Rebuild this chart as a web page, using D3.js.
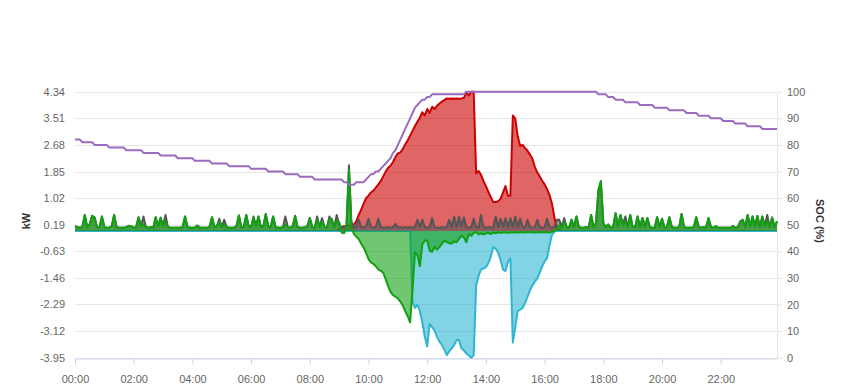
<!DOCTYPE html>
<html>
<head>
<meta charset="utf-8">
<script src="https://cdn.jsdelivr.net/npm/d3@7"></script>
<style>
  html, body { margin: 0; padding: 0; background: #fff; }
  svg { display: block; font-family: "Liberation Sans", Arial, Helvetica, sans-serif; }
  .tick text { fill: #666; font-size: 11px; }
  .axis-title { fill: #333; font-size: 11px; font-weight: bold; }
</style>
</head>
<body>
<svg id="chart" width="849" height="390"></svg>
<script>
/* ============================================================
   DATA (5 minute samples, one row per hour)
============================================================ */
const stepMinutes = 5;
const timeTicks = ["00:00","02:00","04:00","06:00","08:00","10:00","12:00","14:00","16:00","18:00","20:00","22:00"];
const kwTicks = [-3.95, -3.12, -2.29, -1.46, -0.63, 0.19, 1.02, 1.85, 2.68, 3.51, 4.34];
const socTicks = [0, 10, 20, 30, 40, 50, 60, 70, 80, 90, 100];

// PV production (kW)
const pv = [
  0,0,0,0,0,0,0,0,0,0,0,0,
  0,0,0,0,0,0,0,0,0,0,0,0,
  0,0,0,0,0,0,0,0,0,0,0,0,
  0,0,0,0,0,0,0,0,0,0,0,0,
  0,0,0,0,0,0,0,0,0,0,0,0,
  0,0,0,0,0,0,0,0,0,0,0,0,
  0,0,0,0,0,0,0,0,0,0,0,0,
  0,0,0,0,0,0,0,0,0,0,0,0,
  0,0,0,0,0,0,0,0,0,0,0,0,
  0.05,0.12,0.15,0.15,0.17,0.18,0.2,0.3,0.5,0.66,0.85,1.02,
  1.1,1.2,1.26,1.35,1.45,1.55,1.7,1.85,1.97,2.03,2.15,2.3,
  2.42,2.45,2.55,2.7,2.82,2.97,3.12,3.27,3.4,3.53,3.7,3.6,
  3.8,3.68,3.87,3.8,3.9,3.97,4.03,4.08,4.13,4.12,4.13,4.12,
  4.13,4.12,4.13,4.15,4.32,4.22,4.34,4.34,1.8,1.87,1.75,1.55,
  1.4,1.22,1.05,0.9,0.9,0.93,1.0,1.2,1.4,1.1,1.1,3.6,
  3.5,2.95,2.65,2.68,2.58,2.5,2.38,2.25,2.0,1.82,1.7,1.56,
  1.45,1.3,1.12,0.85,0.42,0.1,0.03,0,0,0,0,0,
  0,0,0,0,0,0,0,0,0,0,0,0,
  0,0,0,0,0,0,0,0,0,0,0,0,
  0,0,0,0,0,0,0,0,0,0,0,0,
  0,0,0,0,0,0,0,0,0,0,0,0,
  0,0,0,0,0,0,0,0,0,0,0,0,
  0,0,0,0,0,0,0,0,0,0,0,0,
  0,0,0,0,0,0,0,0,0,0,0,0
];

// Grid power (kW, negative = export)
const grid = [
  0,0,0,0,0,0,0,0,0,0,0,0,
  0,0,0,0,0,0,0,0,0,0,0,0,
  0,0,0,0,0,0,0,0,0,0,0,0,
  0,0,0,0,0,0,0,0,0,0,0,0,
  0,0,0,0,0,0,0,0,0,0,0,0,
  0,0,0,0,0,0,0,0,0,0,0,0,
  0,0,0,0,0,0,0,0,0,0,0,0,
  0,0,0,0,0,0,0,0,0,0,0,0,
  0,0,0,0,0,0,0,0,0,0,0,0,
  0,0,0,0,0,0,0,0,0,0,0,0,
  0,0,0,0,0,0,0,0,0,0,0,0,
  0,0,0,0,0,0,-2.2,-2.4,-2.3,-2.5,-2.85,-3.3,
  -3.6,-2.9,-3.0,-3.1,-3.3,-3.45,-3.55,-3.7,-3.87,-3.75,-3.66,-3.56,
  -3.4,-3.4,-3.66,-3.72,-3.82,-3.88,-3.95,-3.87,-1.7,-1.4,-1.2,-1.17,
  -1.13,-1.0,-0.8,-0.5,-0.55,-0.68,-0.9,-1.2,-1.25,-0.97,-0.85,-3.48,
  -3.0,-2.5,-2.45,-2.4,-2.25,-2.05,-1.85,-1.7,-1.58,-1.48,-1.3,-1.1,
  -0.95,-0.85,-0.45,-0.12,-0.02,0,0,0,0,0,0,0,
  0,0,0,0,0,0,0,0,0,0,0,0,
  0,0,0,0,0,0,0,0,0,0,0,0,
  0,0,0,0,0,0,0,0,0,0,0,0,
  0,0,0,0,0,0,0,0,0,0,0,0,
  0,0,0,0,0,0,0,0,0,0,0,0,
  0,0,0,0,0,0,0,0,0,0,0,0,
  0,0,0,0,0,0,0,0,0,0,0,0
];

// House load (kW)
const load = [
  0.15,0.12,0.1,0.12,0.5,0.12,0.2,0.47,0.42,0.12,0.1,0.45,
  0.12,0.1,0.1,0.15,0.5,0.12,0.1,0.1,0.1,0.12,0.16,0.15,
  0.1,0.12,0.43,0.15,0.45,0.12,0.1,0.12,0.1,0.43,0.15,0.41,
  0.15,0.5,0.12,0.1,0.1,0.1,0.1,0.1,0.12,0.45,0.12,0.1,
  0.1,0.1,0.17,0.1,0.1,0.1,0.1,0.12,0.43,0.12,0.15,0.38,
  0.12,0.35,0.12,0.1,0.1,0.1,0.15,0.48,0.12,0.12,0.5,0.15,
  0.12,0.45,0.15,0.45,0.12,0.15,0.53,0.15,0.12,0.45,0.12,0.1,
  0.1,0.12,0.45,0.12,0.1,0.15,0.47,0.12,0.1,0.1,0.12,0.15,
  0.4,0.12,0.1,0.45,0.12,0.4,0.12,0.1,0.45,0.3,0.12,0.5,
  0.2,0.1,0.12,0.15,2.05,0.3,0.1,0.12,0.35,0.12,0.1,0.15,
  0.38,0.12,0.1,0.12,0.38,0.12,0.1,0.1,0.12,0.1,0.12,0.22,
  0.1,0.12,0.1,0.12,0.1,0.12,0.1,0.12,0.35,0.12,0.35,0.12,
  0.1,0.12,0.4,0.12,0.1,0.1,0.12,0.1,0.12,0.35,0.12,0.45,
  0.12,0.45,0.15,0.42,0.12,0.1,0.12,0.38,0.12,0.1,0.5,0.12,
  0.1,0.12,0.1,0.12,0.45,0.12,0.38,0.12,0.4,0.12,0.4,0.12,
  0.45,0.12,0.38,0.12,0.1,0.35,0.12,0.1,0.12,0.35,0.12,0.1,
  0.12,0.38,0.12,0.1,0.12,0.35,0.35,0.12,0.4,0.12,0.1,0.35,
  0.12,0.45,0.12,0.1,0.1,0.12,0.1,0.5,0.12,0.25,1.25,1.5,
  0.25,0.12,0.2,0.1,0.12,0.55,0.15,0.5,0.2,0.45,0.12,0.5,
  0.12,0.12,0.45,0.12,0.4,0.12,0.4,0.12,0.1,0.1,0.43,0.12,
  0.38,0.1,0.12,0.43,0.12,0.1,0.1,0.12,0.53,0.12,0.1,0.1,
  0.1,0.12,0.43,0.12,0.1,0.12,0.1,0.4,0.12,0.1,0.15,0.1,
  0.1,0.1,0.1,0.1,0.1,0.15,0.1,0.12,0.3,0.35,0.12,0.5,
  0.15,0.45,0.15,0.47,0.12,0.45,0.15,0.5,0.12,0.42,0.12,0.3
];

// Battery power (kW, positive = discharge, negative = charge)
const battery = [
  0.15,0.12,0.1,0.12,0.5,0.12,0.2,0.47,0.42,0.12,0.1,0.45,
  0.12,0.1,0.1,0.15,0.5,0.12,0.1,0.1,0.1,0.12,0.16,0.15,
  0.1,0.12,0.43,0.15,0.2,0.12,0.1,0.12,0.1,0.43,0.15,0.41,
  0.15,0.3,0.12,0.1,0.1,0.1,0.1,0.1,0.12,0.45,0.12,0.1,
  0.1,0.1,0.17,0.1,0.1,0.1,0.1,0.12,0.43,0.12,0.15,0.3,
  0.12,0.2,0.12,0.1,0.1,0.1,0.15,0.48,0.12,0.12,0.5,0.15,
  0.12,0.4,0.15,0.45,0.12,0.15,0.53,0.15,0.12,0.45,0.12,0.1,
  0.1,0.12,0.2,0.12,0.1,0.15,0.47,0.12,0.1,0.1,0.12,0.15,
  0.4,0.12,0.1,0.35,0.12,0.3,0.12,0.1,0.35,0.38,0.12,0.3,
  0.28,-0.05,-0.07,0.15,1.9,0.1,-0.08,-0.18,-0.25,-0.4,-0.52,-0.68,
  -0.88,-0.98,-1.03,-1.1,-1.2,-1.24,-1.3,-1.5,-1.72,-1.9,-2.0,-2.05,
  -2.1,-2.2,-2.32,-2.5,-2.65,-2.85,-1.8,-0.66,-0.75,-1.1,-0.42,-0.3,
  -0.3,-0.62,-0.65,-0.5,-0.58,-0.5,-0.4,-0.3,-0.35,-0.38,-0.39,-0.33,
  -0.35,-0.25,-0.15,-0.2,-0.35,-0.1,-0.15,-0.06,-0.03,-0.1,-0.08,-0.1,
  -0.08,-0.06,-0.1,-0.05,-0.07,-0.04,-0.06,-0.05,-0.04,-0.06,-0.04,-0.05,
  -0.04,-0.05,-0.03,-0.04,-0.05,-0.03,-0.04,-0.03,-0.05,-0.04,-0.03,-0.04,
  -0.04,-0.03,-0.05,-0.02,0,0.05,0.18,0.1,0.3,0.12,0.1,0.35,
  0.12,0.45,0.12,0.1,0.1,0.12,0.1,0.5,0.12,0.25,1.3,1.56,
  0.25,0.12,0.2,0.1,0.12,0.55,0.15,0.5,0.2,0.3,0.12,0.5,
  0.12,0.12,0.45,0.12,0.4,0.12,0.4,0.12,0.1,0.1,0.43,0.12,
  0.38,0.1,0.12,0.43,0.12,0.1,0.1,0.12,0.53,0.12,0.1,0.1,
  0.1,0.12,0.43,0.12,0.1,0.12,0.1,0.4,0.12,0.1,0.15,0.1,
  0.1,0.1,0.1,0.1,0.1,0.15,0.1,0.12,0.3,0.35,0.12,0.5,
  0.15,0.45,0.15,0.47,0.12,0.45,0.15,0.3,0.12,0.42,0.12,0.3
];

// Battery state of charge (%)
const soc = [
  82,82,82,81,81,81,81,81,80,80,80,80,
  80,80,79,79,79,79,79,79,79,78,78,78,
  78,78,78,78,77,77,77,77,77,77,77,76,
  76,76,76,76,76,76,75,75,75,75,75,75,
  75,74,74,74,74,74,74,74,73,73,73,73,
  73,73,73,72,72,72,72,72,72,72,72,72,
  71,71,71,71,71,71,71,70,70,70,70,70,
  70,70,69,69,69,69,69,69,68,68,68,68,
  68,68,67,67,67,67,67,67,67,67,67,67,
  67,67,66,66,65,65,65,66,66,66,66,67,
  68,69,69,70,70,71,72,73,74,75,77,78,
  80,82,84,86,88,90,92,94,95,96,97,97,
  98,98,99,99,99,99,99,99,99,99,99,99,
  99,99,99,99,100,100,100,100,100,100,100,100,
  100,100,100,100,100,100,100,100,100,100,100,100,
  100,100,100,100,100,100,100,100,100,100,100,100,
  100,100,100,100,100,100,100,100,100,100,100,100,
  100,100,100,100,100,100,100,100,100,100,99,99,
  99,99,98,98,98,97,97,97,97,96,96,96,
  96,96,96,95,95,95,95,95,95,94,94,94,
  94,94,94,93,93,93,93,93,93,93,92,92,
  92,92,92,91,91,91,91,91,90,90,90,90,
  90,89,89,89,89,89,88,88,88,88,88,87,
  87,87,87,87,87,86,86,86,86,86,86,86
];


/* ============================================================
   SCALES
============================================================ */
const svg = d3.select("#chart");
const plot = { left: 75, right: 777, top: 91.7, bottom: 357.7 };

const parseTime = d3.timeParse("%H:%M");
const start = parseTime(timeTicks[0]);
const times = pv.map((_, i) => d3.timeMinute.offset(start, i * stepMinutes));

const x = d3.scaleTime()
  .domain([times[0], times[times.length - 1]])
  .range([plot.left, plot.right]);

const yKw = d3.scaleLinear()
  .domain([kwTicks[0], kwTicks[kwTicks.length - 1]])
  .range([plot.bottom, plot.top]);

const ySoc = d3.scaleLinear()
  .domain([socTicks[0], socTicks[socTicks.length - 1]])
  .range([plot.bottom, plot.top]);

const crisp = v => Math.round(v) + 0.5;


/* ============================================================
   GRID + AXES
============================================================ */
svg.append("g")
  .selectAll("line")
  .data(kwTicks)
  .join("line")
  .attr("x1", plot.left)
  .attr("x2", plot.right)
  .attr("y1", d => crisp(yKw(d)))
  .attr("y2", d => crisp(yKw(d)))
  .attr("stroke", "#e6e6e6");

svg.append("g")
  .attr("transform", `translate(${plot.left},0)`)
  .call(d3.axisLeft(yKw).tickValues(kwTicks).tickFormat(d => d.toFixed(2)).tickSize(0).tickPadding(10))
  .call(g => g.select(".domain").remove());

svg.append("g")
  .attr("transform", `translate(${crisp(plot.right) - 0.5},0)`)
  .call(d3.axisRight(ySoc).tickValues(socTicks).tickSize(5).tickSizeOuter(0).tickPadding(5))
  .call(g => g.select(".domain").attr("stroke", "#e6e6e6"))
  .call(g => g.selectAll(".tick line").attr("stroke", "#e6e6e6"));

svg.append("g")
  .attr("transform", `translate(0,${crisp(plot.bottom)})`)
  .call(d3.axisBottom(x)
    .tickValues(timeTicks.map(parseTime))
    .tickFormat(d3.timeFormat("%H:%M"))
    .tickSize(6).tickSizeOuter(0).tickPadding(11))
  .call(g => g.select(".domain").attr("stroke", "#ccd6eb"))
  .call(g => g.selectAll(".tick line").attr("stroke", "#ccd6eb"));

svg.append("text")
  .attr("class", "axis-title")
  .attr("transform", "translate(26,221) rotate(-90)")
  .attr("text-anchor", "middle")
  .attr("dominant-baseline", "central")
  .text("kW");

svg.append("text")
  .attr("class", "axis-title")
  .attr("transform", "translate(820,221) rotate(90)")
  .attr("text-anchor", "middle")
  .attr("dominant-baseline", "central")
  .text("SOC (%)");


/* ============================================================
   SERIES
============================================================ */
const series = [
  { values: pv, color: "#cc0000" },
  { values: grid, color: "#2fb5d2" },
  { values: load, color: "#555555" },
  { values: battery, color: "#12a012" }
];

const area = d3.area()
  .x((d, i) => x(times[i]))
  .y0(yKw(0))
  .y1(d => yKw(d));

const line = d3.line()
  .x((d, i) => x(times[i]))
  .y(d => yKw(d));

series.forEach(s => {
  svg.append("path")
    .datum(s.values)
    .attr("d", area)
    .attr("fill", s.color)
    .attr("fill-opacity", 0.6);
  svg.append("path")
    .datum(s.values)
    .attr("d", line)
    .attr("fill", "none")
    .attr("stroke", s.color)
    .attr("stroke-width", 2)
    .attr("stroke-linejoin", "round");
});

const socLine = d3.line()
  .x((d, i) => x(times[i]))
  .y(d => ySoc(d));

svg.append("path")
  .datum(soc)
  .attr("d", socLine)
  .attr("fill", "none")
  .attr("stroke", "#9b6bc0")
  .attr("stroke-width", 2)
  .attr("stroke-linejoin", "round");
</script>
</body>
</html>
